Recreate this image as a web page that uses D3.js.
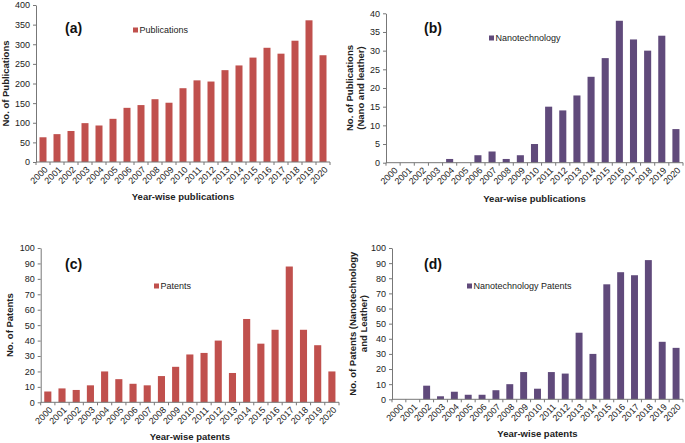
<!DOCTYPE html>
<html>
<head>
<meta charset="utf-8">
<script src="https://cdn.jsdelivr.net/npm/d3@7"></script>
<style>
html,body{margin:0;padding:0;background:#fff;}
svg{display:block;font-family:"Liberation Sans",Arial,sans-serif;}
</style>
</head>
<body>
<svg id="chart" width="685" height="443"></svg>
<script>
const years = ["2000","2001","2002","2003","2004","2005","2006","2007","2008","2009","2010","2011","2012","2013","2014","2015","2016","2017","2018","2019","2020"];
const publications = [63,71,79,99,93,110,138,145,160,151,188,208,205,234,246,266,291,276,309,361,272];
const nanoPublications = [0,0,0,0,1,0,2,3,1,2,5,15,14,18,23,28,38,33,30,34,9];
const patents = [7,9,8,11,20,15,12,11,17,23,31,32,40,19,54,38,47,88,47,37,20];
const nanoPatents = [0,0,9,2,5,3,3,6,10,18,7,18,17,44,30,76,84,82,92,38,34];
const pubTicks = [0,50,100,150,200,250,300,350,400];
const nanoPubTicks = [0,5,10,15,20,25,30,35,40];
const patentTicks = [0,10,20,30,40,50,60,70,80,90,100];
const nanoPatentTicks = [0,10,20,30,40,50,60,70,80,90,100];

const RED = "#C0504D", PURPLE = "#604A7B";
const svg = d3.select("#chart");

function panel(o){
  const g = svg.append("g");
  const x = d3.scaleBand().domain(years).range([o.x0, o.x1]).paddingInner(0.5).paddingOuter(0.25);
  const xb = d3.scaleBand().domain(years).range([o.x0, o.x1]);
  const y = d3.scaleLinear().domain([0, o.ticks[o.ticks.length-1]]).range([o.yB, o.yT]);

  g.selectAll("rect.bar").data(o.values).join("rect")
    .attr("class","bar")
    .attr("x",(d,i)=>x(years[i]))
    .attr("width",x.bandwidth())
    .attr("y",d=>y(d))
    .attr("height",d=>o.yB - y(d))
    .attr("fill",o.color);

  // y axis
  const ya = g.append("g").attr("transform",`translate(${o.x0},0)`)
    .call(d3.axisLeft(y).tickValues(o.ticks).tickSize(3).tickSizeOuter(0).tickPadding(3));
  ya.select(".domain").attr("stroke","#777");
  ya.selectAll(".tick line").attr("stroke","#777");
  ya.selectAll("text").attr("font-size","9px").attr("fill","#222").attr("font-family","Liberation Sans, Arial, sans-serif");

  // x axis with tick marks at band boundaries
  const xa = g.append("g").attr("transform",`translate(0,${o.yB})`);
  xa.append("line").attr("x1",o.x0).attr("x2",o.x1).attr("y1",0).attr("y2",0).attr("stroke","#777");
  const bounds = years.map(d=>xb(d)).concat([o.x1]);
  xa.selectAll("line.tk").data(bounds).join("line").attr("class","tk")
    .attr("x1",d=>d).attr("x2",d=>d).attr("y1",0).attr("y2",3).attr("stroke","#777");
  xa.selectAll("text").data(years).join("text")
    .attr("transform",d=>`translate(${xb(d)+xb.bandwidth()/2+3},${6}) rotate(-45)`)
    .attr("text-anchor","end")
    .attr("dy","0.35em")
    .attr("font-size","9px").attr("fill","#222")
    .text(d=>d);

  // axis titles
  g.append("text").attr("x",(o.x0+o.x1)/2).attr("y",o.xTitleY)
    .attr("text-anchor","middle").attr("font-size","9.5px").attr("font-weight","bold").attr("fill","#222")
    .text(o.xTitle);
  const yc = (o.yT+o.yB)/2;
  o.yTitle.forEach((t,i)=>{
    g.append("text").attr("transform",`translate(${o.yTitleX[i]},${yc}) rotate(-90)`)
      .attr("text-anchor","middle").attr("dy","0.35em")
      .attr("font-size","9.5px").attr("font-weight","bold").attr("fill","#222").text(t);
  });

  // panel label
  g.append("text").attr("x",o.lab[0]).attr("y",o.lab[1]).attr("dy","0.35em")
    .attr("font-size","14px").attr("font-weight","bold").attr("fill","#111").text(o.label);

  // legend
  g.append("rect").attr("x",o.leg[0]).attr("y",o.leg[1]-2.5).attr("width",5).attr("height",5).attr("fill",o.color);
  g.append("text").attr("x",o.leg[0]+6.5).attr("y",o.leg[1]).attr("dy","0.35em")
    .attr("font-size","9px").attr("fill","#222").text(o.legend);
}

panel({values:publications, ticks:pubTicks, color:RED, x0:36, x1:330, yT:5, yB:162,
  xTitle:"Year-wise publications", xTitleY:200, yTitle:["No. of Publications"], yTitleX:[6],
  label:"(a)", lab:[65,28], leg:[133,30], legend:"Publications"});
panel({values:nanoPublications, ticks:nanoPubTicks, color:PURPLE, x0:386, x1:683, yT:13.3, yB:162.7,
  xTitle:"Year-wise publications", xTitleY:202, yTitle:["No. of Publications","(Nano and leather)"], yTitleX:[350,361],
  label:"(b)", lab:[424,28], leg:[489,38], legend:"Nanotechnology"});
panel({values:patents, ticks:patentTicks, color:RED, x0:40.7, x1:339, yT:248, yB:402.3,
  xTitle:"Year-wise patents", xTitleY:440, yTitle:["No. of Patents"], yTitleX:[10],
  label:"(c)", lab:[65,264], leg:[154,286], legend:"Patents"});
panel({values:nanoPatents, ticks:nanoPatentTicks, color:PURPLE, x0:392, x1:683, yT:248, yB:399.3,
  xTitle:"Year-wise patents", xTitleY:437, yTitle:["No. of Patents (Nanotechnology","and Leather)"], yTitleX:[353,364],
  label:"(d)", lab:[424,264], leg:[467,286], legend:"Nanotechnology Patents"});
</script>
</body>
</html>
